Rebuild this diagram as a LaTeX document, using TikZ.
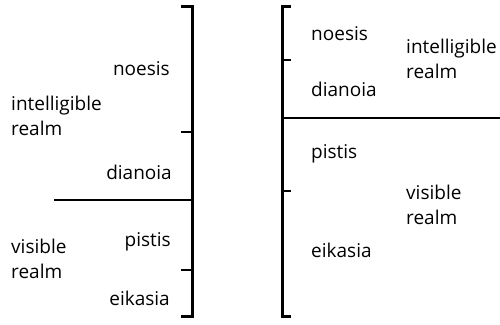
\documentclass[tikz,border=0pt]{standalone}
\usepackage{fontspec}
\setmainfont{Open Sans}
\begin{document}
\begin{tikzpicture}[x=1pt,y=-1pt,
  bar/.style={line width=3pt,line cap=butt},
  tick/.style={line width=2.6pt},
  divider/.style={line width=2.6pt},
  lbl/.style={inner sep=0pt,font=\fontsize{19}{25}\selectfont,align=left}]
\useasboundingbox (0,0) rectangle (500,324);
% left diagram
\coordinate (LT) at (192,6);
\coordinate (LB) at (192,316);
\coordinate (LTt) at (181,6);
\coordinate (LBt) at (181,316);
\coordinate (LM1) at (192,132);
\coordinate (LM1t) at (181,132);
\coordinate (LH) at (192,200);
\coordinate (LHe) at (54,200);
\coordinate (LM2) at (192,270);
\coordinate (LM2t) at (181,270);
\draw[bar] (LTt) -- (LT) -- (LB) -- (LBt);
\draw[tick] (LM1t) -- (LM1);
\draw[tick] (LM2t) -- (LM2);
\draw[divider] (LHe) -- (LH);
\node[lbl,anchor=base east] (ln) at (170,75) {noesis};
\node[lbl,anchor=base east] (ld) at (172,179) {dianoia};
\node[lbl,anchor=base east] (lp) at (171,246) {pistis};
\node[lbl,anchor=base east] (le) at (170,305) {eikasia};
\node[lbl,anchor=base west] (li) at (11,110) {intelligible};
\node[lbl,anchor=base west] (lr1) at (11,135) {realm};
\node[lbl,anchor=base west] (lv) at (11,253) {visible};
\node[lbl,anchor=base west] (lr2) at (11,278) {realm};
% right diagram
\coordinate (RT) at (282,6);
\coordinate (RB) at (282,316);
\coordinate (RTt) at (291,6);
\coordinate (RBt) at (291,316);
\coordinate (RM1) at (282,60);
\coordinate (RM1t) at (291,60);
\coordinate (RH) at (282,118);
\coordinate (RHe) at (500,118);
\coordinate (RM2) at (282,191);
\coordinate (RM2t) at (291,191);
\draw[bar] (RTt) -- (RT) -- (RB) -- (RBt);
\draw[tick] (RM1) -- (RM1t);
\draw[tick] (RM2) -- (RM2t);
\draw[divider] (RH) -- (RHe);
\node[lbl,anchor=base west] (rn) at (311,40) {noesis};
\node[lbl,anchor=base west] (rd) at (311,96) {dianoia};
\node[lbl,anchor=base west] (rp) at (311,158) {pistis};
\node[lbl,anchor=base west] (re) at (311,257) {eikasia};
\node[lbl,anchor=base west] (ri) at (406,53) {intelligible};
\node[lbl,anchor=base west] (rr1) at (406,78) {realm};
\node[lbl,anchor=base west] (rv) at (406,199) {visible};
\node[lbl,anchor=base west] (rr2) at (406,224) {realm};
\end{tikzpicture}
\end{document}
